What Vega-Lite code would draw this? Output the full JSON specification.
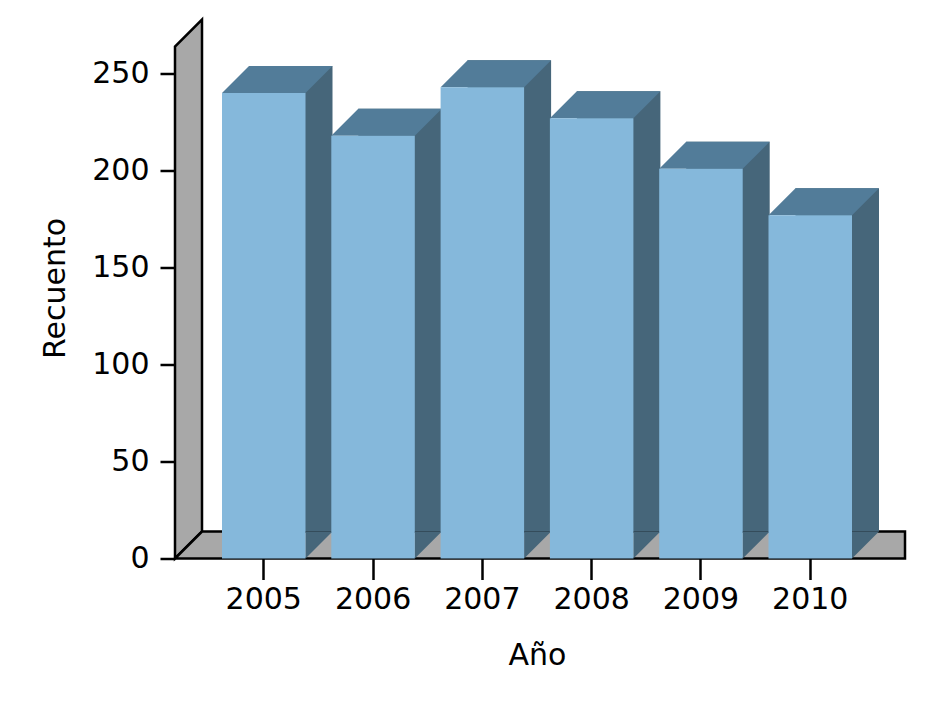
{
  "$schema": "https://vega.github.io/schema/vega-lite/v6.json",
  "width": 724,
  "height": 512,
  "autosize": {"type": "none"},
  "padding": {"left": 175, "top": 46.5, "right": 26, "bottom": 153.5},
  "background": "white",
  "data": {
    "values": [
      {"year": "2005", "count": 240},
      {"year": "2006", "count": 218},
      {"year": "2007", "count": 243},
      {"year": "2008", "count": 227},
      {"year": "2009", "count": 201},
      {"year": "2010", "count": 177}
    ]
  },
  "layer": [
    {
      "data": {"values": [{}]},
      "mark": {"type": "point", "shape": "M-88.75,0L-88.75,-512L-61.75,-539L-61.75,-27Z", "size": 4, "filled": true, "opacity": 1, "fill": "#a8a8a8", "stroke": "black", "strokeWidth": 2.5, "strokeJoin": "miter"},
      "encoding": {
        "x": {"datum": "2005", "type": "ordinal", "title": "Año", "scale": {"paddingInner": 0.236, "paddingOuter": 0.43}},
        "y": {"datum": 0, "type": "quantitative", "title": "Recuento", "scale": {"domain": [0, 264], "nice": false}, "axis": {"values": [0, 50, 100, 150, 200, 250]}}
      }
    },
    {
      "data": {"values": [{}]},
      "mark": {"type": "point", "shape": "M-88.75,0L-61.75,-27L641.25,-27L641.25,0Z", "size": 4, "filled": true, "opacity": 1, "fill": "#a8a8a8", "stroke": "black", "strokeWidth": 2.5, "strokeJoin": "miter"},
      "encoding": {
        "x": {"datum": "2005", "type": "ordinal", "title": "Año"},
        "y": {"datum": 0, "type": "quantitative", "title": "Recuento", "axis": {"values": [0, 50, 100, 150, 200, 250]}}
      }
    },
    {
      "mark": {"type": "bar", "color": "#46667a", "xOffset": 27, "yOffset": -27, "y2Offset": -27},
      "encoding": {
        "x": {"field": "year", "type": "ordinal", "title": "Año"},
        "y": {"field": "count", "type": "quantitative", "title": "Recuento", "axis": {"values": [0, 50, 100, 150, 200, 250]}}
      }
    },
    {
      "mark": {"type": "point", "shape": "M-41.75,0L41.75,0L68.75,-27L-14.75,-27Z", "size": 4, "filled": true, "opacity": 1, "color": "#527c99", "strokeWidth": 0},
      "encoding": {
        "x": {"field": "year", "type": "ordinal", "title": "Año"},
        "y": {"field": "count", "type": "quantitative", "title": "Recuento", "axis": {"values": [0, 50, 100, 150, 200, 250]}}
      }
    },
    {
      "mark": {"type": "point", "shape": "M41.75,-27L41.75,0L68.75,-27Z", "size": 4, "filled": true, "opacity": 1, "color": "#46667a", "strokeWidth": 0},
      "encoding": {
        "x": {"field": "year", "type": "ordinal", "title": "Año"},
        "y": {"datum": 0, "type": "quantitative", "title": "Recuento", "axis": {"values": [0, 50, 100, 150, 200, 250]}}
      }
    },
    {
      "mark": {"type": "bar", "color": "#85b8db"},
      "encoding": {
        "x": {"field": "year", "type": "ordinal", "title": "Año"},
        "y": {"field": "count", "type": "quantitative", "title": "Recuento", "axis": {"values": [0, 50, 100, 150, 200, 250]}}
      }
    }
  ],
  "config": {
    "view": {"stroke": null},
    "axis": {
      "grid": false,
      "domain": false,
      "tickColor": "black",
      "tickWidth": 2.5,
      "labelFont": "DejaVu Sans",
      "labelFontSize": 30,
      "labelColor": "black",
      "titleFont": "DejaVu Sans",
      "titleFontSize": 30,
      "titleFontWeight": "normal",
      "titleColor": "black",
      "labelOverlap": false
    },
    "axisX": {"tickSize": 21, "labelAngle": 0, "labelPadding": 5, "titlePadding": 26},
    "axisY": {"tickSize": 15, "labelPadding": 11, "titlePadding": 21, "titleY": 241.5, "labelFlush": false}
  }
}
